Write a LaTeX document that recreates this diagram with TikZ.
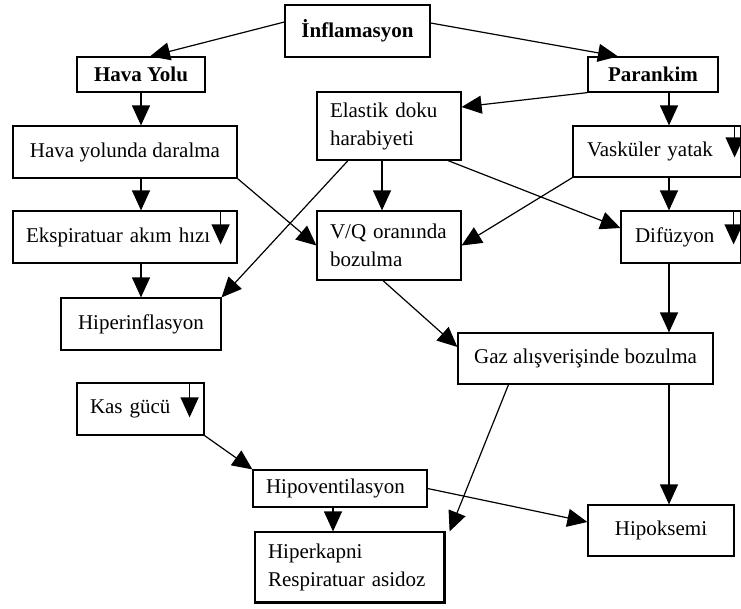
\documentclass[tikz,border=0pt]{standalone}
\usepackage{fontspec}
\setmainfont{Liberation Serif}
\usetikzlibrary{arrows.meta}

\tikzset{
  kutu/.style={draw, line width=1.2pt, minimum height=52pt, inner sep=0pt},
  sol/.style={align=left},
  ok/.style={-{Triangle[width=18pt,length=20pt]}, line width=1.2pt},
}

\begin{document}
\begin{tikzpicture}[x=1pt, y=-1pt, font=\fontsize{21}{28}\selectfont]
  \useasboundingbox (0,0) rectangle (741,608);

  % ana başlıklar
  \node[kutu, minimum width=145pt] (infl) at (357.5,31) {\textbf{İnflamasyon}};
  \node[kutu, minimum width=128pt, minimum height=35pt] (hava) at (141,74.5) {\textbf{Hava Yolu}};
  \node[kutu, minimum width=130pt, minimum height=35pt] (paran) at (653,74.5) {\textbf{Parankim}};

  % ara kutular
  \node[kutu, sol, minimum height=68pt, text width=118pt, inner xsep=13pt] (elastik) at (389,126) {Elastik doku\\harabiyeti};
  \node[kutu, minimum width=224pt] (daral) at (125,152) {Hava yolunda daralma};
  \node[kutu, sol, minimum height=51pt, text width=140pt, inner xsep=14pt] (vask) at (657,151.5) {Vasküler yatak};
  \node[kutu, sol, text width=198pt, inner xsep=13pt] (eks) at (125,237) {Ekspiratuar akım hızı};
  \node[kutu, sol, minimum height=69pt, text width=118pt, inner xsep=13pt] (vq) at (389,245.5) {V/Q oranında\\bozulma};
  \node[kutu, sol, text width=92pt, inner xsep=14pt] (dif) at (681,237) {Difüzyon};
  \node[kutu, minimum width=160pt] (hiperinf) at (141,324) {Hiperinflasyon};
  \node[kutu, minimum width=255pt, minimum height=51pt] (gaz) at (585.5,358.5) {Gaz alışverişinde bozulma};
  \node[kutu, sol, text width=101pt, inner xsep=13pt] (kas) at (140.5,409) {Kas gücü};
  \node[kutu, sol, minimum height=37pt, text width=148pt, inner xsep=13pt] (hipov) at (340,488.5) {Hipoventilasyon};
  \node[kutu, sol, minimum height=70pt, text width=163pt, inner xsep=13pt] (hiperk) at (349.5,567) {Hiperkapni\\Respiratuar asidoz};
  \node[kutu, minimum width=146pt, minimum height=51pt] (hipok) at (661,530.5) {Hipoksemi};
  \draw[line width=2.4pt] (hiperk.south west) -- (hiperk.south east) -- (hiperk.north east);

  % oklar
  \draw[ok] ([yshift=9pt]infl.west) -- ([xshift=9pt]hava.north);
  \draw[ok] ([yshift=8pt]infl.east) -- ([xshift=-35pt]paran.north);
  \draw[ok] (hava.south) -- ([xshift=16pt]daral.north);
  \draw[ok] ([xshift=16pt]paran.south) -- ([xshift=12pt]vask.north);
  \draw[ok] (paran.south west) -- ([yshift=19pt]elastik.east);
  \draw[ok] ([xshift=16pt]daral.south) -- ([xshift=16pt]eks.north);
  \draw[ok] (daral.south east) -- (vq.west);
  \draw[ok] ([xshift=-41pt]elastik.south) -- (hiperinf.north east);
  \draw[ok] ([xshift=-7pt]elastik.south) -- ([xshift=-7pt]vq.north);
  \draw[ok] ([xshift=59pt]elastik.south) -- ([yshift=9pt]dif.west);
  \draw[ok] (vask.south west) -- (vq.east);
  \draw[ok] ([xshift=12pt]vask.south) -- ([xshift=-12pt]dif.north);
  \draw[ok] ([xshift=16pt]eks.south) -- (hiperinf.north);
  \draw[ok] ([xshift=-6pt]vq.south) -- ([yshift=11.5pt]gaz.west);
  \draw[ok] ([xshift=-12pt]dif.south) -- ([xshift=83.5pt]gaz.north);
  \draw[ok] ([xshift=-77pt]gaz.south) -- ([xshift=5pt]hiperk.north east);
  \draw[ok] ([xshift=83.5pt]gaz.south) -- ([xshift=8pt]hipok.north);
  \draw[ok] (kas.south east) -- (hipov.north west);
  \draw[ok] (hipov.east) -- ([yshift=8.5pt]hipok.west);
  \draw[ok] ([xshift=-7pt]hipov.south) -- ([xshift=-16.5pt]hiperk.north);

  % azalma okları (kutu içinde)
  \draw[ok] ([xshift=-17pt]eks.north east) -- ++(0pt,-34pt);
  \draw[ok] ([xshift=-7pt]vask.north east) -- ++(0pt,-32pt);
  \draw[ok] ([xshift=-8pt]dif.north east) -- ++(0pt,-34pt);
  \draw[ok] ([xshift=-15pt]kas.north east) -- ++(0pt,-35pt);
\end{tikzpicture}
\end{document}
